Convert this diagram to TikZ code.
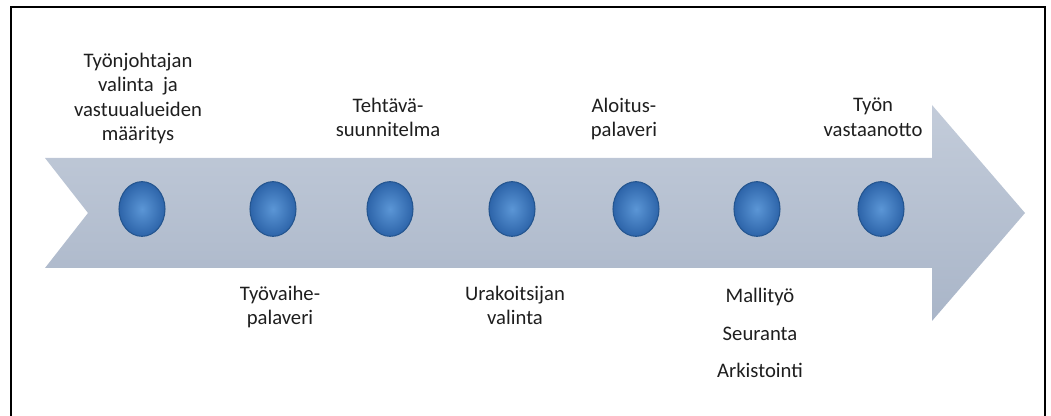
\documentclass[tikz,border=0pt]{standalone}
\usepackage{fontspec}
\setmainfont{Carlito}
\usepackage{tikz}
\usetikzlibrary{shapes.geometric}

\definecolor{bandtop}{HTML}{C3CCDA}
\definecolor{bandmid}{HTML}{DCE1E9}
\definecolor{bandbot}{HTML}{A9B5C8}
\definecolor{dotin}{HTML}{5B96D6}
\definecolor{dotout}{HTML}{2D64A9}
\definecolor{dotrim}{HTML}{24558F}
\definecolor{labeltext}{HTML}{1E1E1E}

\begin{document}
\begin{tikzpicture}[
    x=0.75pt, y=-0.75pt,
    stage/.style={font=\fontsize{15.5}{18.2}\selectfont, text=labeltext, align=center, inner sep=0pt, anchor=north},
    milestone/.style={ellipse, minimum width=34.5pt, minimum height=41pt, inner sep=0pt,
        draw=dotrim, line width=0.8pt, inner color=dotin, outer color=dotout}
]
\useasboundingbox (0,0) rectangle (1051,416);
\draw[line width=2.2pt] (11,416) -- (11,7) -- (1045,7) -- (1045,416);

\shade[top color=bandtop, middle color=bandmid, bottom color=bandbot]
    (45,158) -- (932,158) -- (932,105) -- (1025,213) -- (932,321) -- (932,268)
    -- (45,268) -- (88,213) -- cycle;

\node[milestone] (m1) at (142,209) {};
\node[milestone] (m2) at (273,209) {};
\node[milestone] (m3) at (390,209) {};
\node[milestone] (m4) at (512,209) {};
\node[milestone] (m5) at (636,209) {};
\node[milestone] (m6) at (757,209) {};
\node[milestone] (m7) at (881,209) {};

\node[stage] (foreman) at (138,53) {Työnjohtajan\\valinta~ ja\\vastuualueiden\\määritys};
\node[stage] (taskplan) at (388,98) {Tehtävä-\\suunnitelma};
\node[stage] (kickoff) at (624,98) {Aloitus-\\palaveri};
\node[stage] (handover) at (873,98) {Työn\\vastaanotto};

\node[stage] (phasemeet) at (280,286) {Työvaihe-\\palaveri};
\node[stage] (contractor) at (515,286) {Urakoitsijan\\valinta};
\node[stage] (followup) at (760,288) {Mallityö\\[10pt]Seuranta\\[10pt]Arkistointi};
\end{tikzpicture}
\end{document}
